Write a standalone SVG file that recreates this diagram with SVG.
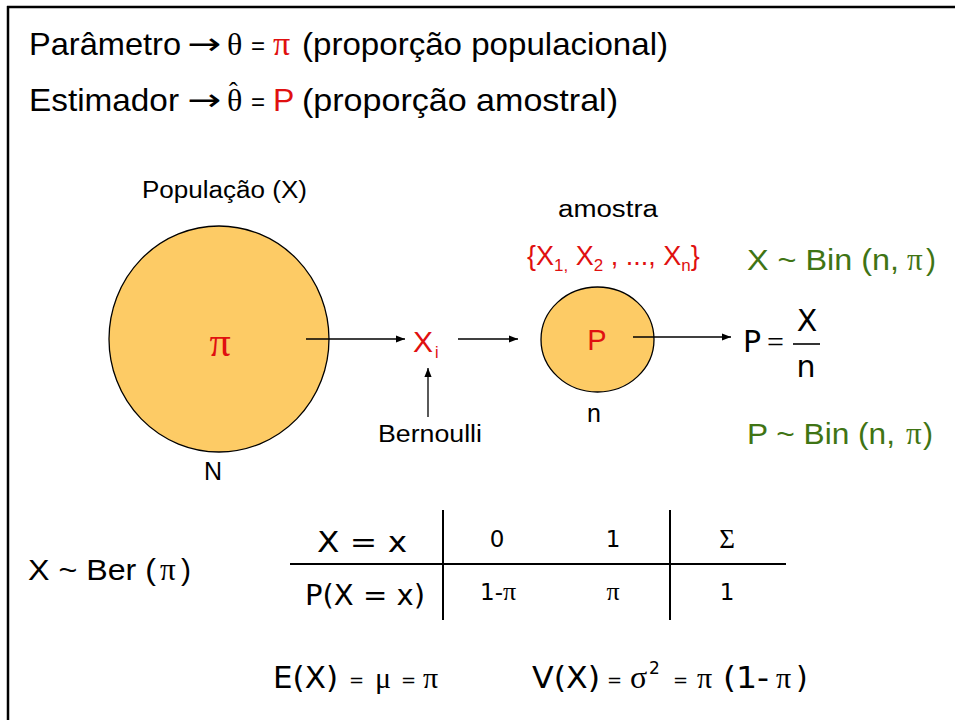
<svg xmlns="http://www.w3.org/2000/svg" width="955" height="720" viewBox="0 0 955 720">
<defs>
<marker id="ah" viewBox="0 0 10 10" refX="10" refY="5" markerWidth="9" markerHeight="9" markerUnits="userSpaceOnUse" orient="auto">
<path d="M0,1 L10,5 L0,9 z" fill="#000"/>
</marker>
</defs>
<style>
text{font-family:"Liberation Sans","DejaVu Sans",sans-serif;fill:#000}
.s{font-family:"Liberation Serif","DejaVu Serif",serif}
.v{font-family:"DejaVu Sans","Liberation Sans",sans-serif}
.red{fill:#E01010}
.grn{fill:#3F7414}
.ln{stroke:#000;stroke-width:1.3;fill:none}
.tb{stroke:#000;stroke-width:2;fill:none}
</style>
<rect width="955" height="720" fill="#fff"/>
<g id="frame">
<line x1="7" y1="7" x2="955" y2="7" stroke="#000" stroke-width="2.5"/>
<line x1="8" y1="6" x2="8" y2="720" stroke="#000" stroke-width="2.5"/>
</g>
<g id="header">
<text x="29" y="55" font-size="32" textLength="152" lengthAdjust="spacingAndGlyphs">Parâmetro</text>
<text x="187" y="54" class="v" font-size="30" textLength="34" lengthAdjust="spacingAndGlyphs">→</text>
<text x="227" y="55" class="s" font-size="32">θ</text>
<text x="251" y="54" font-size="24">=</text>
<text x="273" y="55" class="s red" font-size="34">π</text>
<text x="302" y="55" font-size="32" textLength="366" lengthAdjust="spacingAndGlyphs">(proporção populacional)</text>
<text x="29" y="111" font-size="32" textLength="150" lengthAdjust="spacingAndGlyphs">Estimador</text>
<text x="187" y="110" class="v" font-size="30" textLength="34" lengthAdjust="spacingAndGlyphs">→</text>
<text x="227" y="111" class="s" font-size="32">θ<tspan x="229" y="100" font-size="26">ˆ</tspan></text>
<text x="251" y="110" font-size="24">=</text>
<text x="273" y="111" class="red" font-size="32">P</text>
<text x="302" y="111" font-size="32" textLength="316" lengthAdjust="spacingAndGlyphs">(proporção amostral)</text>
</g>
<g id="populacao">
<text x="142" y="198" font-size="23" textLength="165" lengthAdjust="spacingAndGlyphs">População (X)</text>
<ellipse cx="219" cy="339" rx="110" ry="113" fill="#FDCB65" stroke="#000" stroke-width="1.3"/>
<text x="220" y="356" class="s red" font-size="42" text-anchor="middle">π</text>
<text x="213" y="480" font-size="25" text-anchor="middle">N</text>
</g>
<g id="xi">
<text x="413" y="352" class="red" font-size="29" textLength="20" lengthAdjust="spacingAndGlyphs">X</text>
<text x="435" y="358" class="red" font-size="16">i</text>
</g>
<g id="bernoulli">
<text x="378" y="442" font-size="23" textLength="104" lengthAdjust="spacingAndGlyphs">Bernoulli</text>
</g>
<g id="amostra">
<text x="558" y="217" font-size="23" textLength="100" lengthAdjust="spacingAndGlyphs">amostra</text>
<text x="527" y="265" class="red" font-size="27">{X<tspan font-size="17" dy="6">1,</tspan><tspan dy="-6"> X</tspan><tspan font-size="17" dy="6">2</tspan><tspan dy="-6"> , ..., X</tspan><tspan font-size="17" dy="6">n</tspan><tspan dy="-6">}</tspan></text>
<ellipse cx="597.5" cy="339.5" rx="56.5" ry="52.5" fill="#FDCB65" stroke="#000" stroke-width="1.3"/>
<text x="597" y="350" class="red" font-size="29" text-anchor="middle">P</text>
<text x="594" y="422" font-size="25" text-anchor="middle">n</text>
</g>
<g id="formula">
<text x="743" y="352" class="v" font-size="30">P</text>
<text x="767" y="352" class="s" font-size="30">=</text>
<line x1="793" y1="344" x2="820" y2="344" stroke="#000" stroke-width="1.6"/>
<text x="807" y="331" class="v" font-size="30" text-anchor="middle">X</text>
<text x="806" y="377" class="v" font-size="30" text-anchor="middle">n</text>
</g>
<g id="distribuicoes">
<text x="747" y="270" class="grn" font-size="30" textLength="152" lengthAdjust="spacingAndGlyphs">X ~ Bin (n,</text>
<text x="907" y="270" class="s grn" font-size="31">π</text>
<text x="926" y="270" class="grn" font-size="30">)</text>
<text x="747" y="444" class="grn" font-size="30" textLength="148" lengthAdjust="spacingAndGlyphs">P ~ Bin (n,</text>
<text x="906" y="444" class="s grn" font-size="31">π</text>
<text x="923" y="444" class="grn" font-size="30">)</text>
</g>
<g id="connectors">
<line class="ln" x1="306" y1="339" x2="405" y2="339" marker-end="url(#ah)"/>
<line class="ln" x1="428" y1="417" x2="428" y2="368" marker-end="url(#ah)"/>
<line class="ln" x1="458" y1="339" x2="518" y2="339" marker-end="url(#ah)"/>
<line class="ln" x1="633" y1="337" x2="731" y2="337" marker-end="url(#ah)"/>
</g>
<g id="bernoulli-dist">
<text x="28" y="580" font-size="30" textLength="128" lengthAdjust="spacingAndGlyphs">X ~ Ber (</text>
<text x="160" y="580" class="s" font-size="31">π</text>
<text x="181" y="580" font-size="30">)</text>
</g>
<g id="tabela">
<line class="tb" x1="290" y1="564" x2="786" y2="564"/>
<line class="tb" x1="443" y1="510" x2="443" y2="620"/>
<line class="tb" x1="670" y1="510" x2="670" y2="620"/>
<text x="362" y="552" class="v" font-size="28" text-anchor="middle" textLength="90" lengthAdjust="spacingAndGlyphs">X = x</text>
<text x="365" y="605" class="v" font-size="28" text-anchor="middle" textLength="120" lengthAdjust="spacingAndGlyphs">P(X = x)</text>
<text x="497" y="547" class="v" font-size="23" text-anchor="middle">0</text>
<text x="613" y="547" class="v" font-size="23" text-anchor="middle">1</text>
<text x="727" y="548" class="s" font-size="27" text-anchor="middle">Σ</text>
<text x="480" y="600" class="v" font-size="23">1-<tspan class="s" font-size="26">π</tspan></text>
<text x="613" y="600" class="s" font-size="26" text-anchor="middle">π</text>
<text x="727" y="600" class="v" font-size="23" text-anchor="middle">1</text>
</g>
<g id="momentos">
<text x="273" y="688" class="v" font-size="30" textLength="65" lengthAdjust="spacingAndGlyphs">E(X)</text>
<text x="349" y="686" class="v" font-size="18">=</text>
<text x="375" y="688" class="s" font-size="30">μ</text>
<text x="401" y="686" class="v" font-size="18">=</text>
<text x="423" y="688" class="s" font-size="30">π</text>
<text x="532" y="688" class="v" font-size="30" textLength="68" lengthAdjust="spacingAndGlyphs">V(X)</text>
<text x="607" y="686" class="v" font-size="18">=</text>
<text x="630" y="688" class="s" font-size="32">σ</text>
<text x="649" y="674" class="v" font-size="17">2</text>
<text x="673" y="686" class="v" font-size="18">=</text>
<text x="697" y="688" class="s" font-size="30">π</text>
<text x="723" y="688" class="v" font-size="30" textLength="46" lengthAdjust="spacingAndGlyphs">(1-</text>
<text x="776" y="688" class="s" font-size="30">π</text>
<text x="796" y="688" class="v" font-size="30">)</text>
</g>
</svg>
